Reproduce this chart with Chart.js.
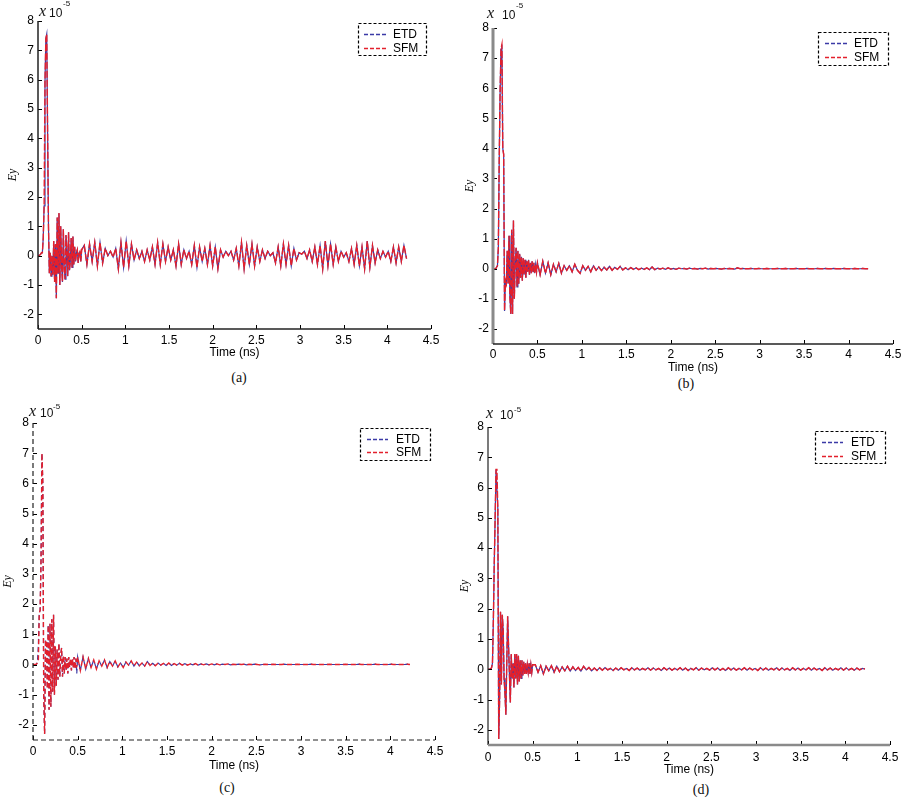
<!DOCTYPE html>
<html><head><meta charset="utf-8">
<script src="https://cdn.jsdelivr.net/npm/chart.js@4.4.1/dist/chart.umd.min.js"></script>
<style>
html,body{margin:0;padding:0;background:#fff}
body{width:907px;height:801px;position:relative;overflow:hidden}
canvas{position:absolute}
.t{position:absolute;white-space:nowrap;line-height:1;color:#111}
.cap{font-family:"Liberation Serif","Times New Roman",serif;font-size:14px;transform:translate(-50%,-50%)}
.xi{font-family:"Liberation Serif","Times New Roman",serif;font-style:italic;font-size:16px}
.ten{font-family:"Liberation Sans",Arial,sans-serif;font-size:12px}
.ex{font-family:"Liberation Sans",Arial,sans-serif;font-size:8px}
</style></head><body>
<script>
// ---------- DATA ----------
const seriesNames = ['ETD', 'SFM'];
const panelLabels = ['(a)', '(b)', '(c)', '(d)'];
const xTickValues = [0, 0.5, 1, 1.5, 2, 2.5, 3, 3.5, 4, 4.5];
const yTickValues = [-2, -1, 0, 1, 2, 3, 4, 5, 6, 7, 8];
const xAxisTitle = 'Time (ns)';
const yAxisTitle = 'Ey';

const timeEarly = [0.00,0.01,0.02,0.03,0.04,0.05,0.06,0.07,0.08,0.09,0.10,0.11,0.12,0.13,0.14,0.15,0.16,0.17,0.18,0.19,0.20,0.21,0.22,0.23,0.24,0.25,0.26,0.27,0.28,0.29,0.30,0.31,0.32,0.33,0.34,0.35,0.36,0.37,0.38,0.39,0.40,0.41,0.42,0.43,0.44,0.45,0.46,0.47,0.48,0.49,0.50];
const timeLate = [0.53,0.56,0.59,0.62,0.65,0.68,0.71,0.74,0.77,0.80,0.83,0.86,0.89,0.92,0.95,0.98,1.01,1.04,1.07,1.10,1.13,1.16,1.19,1.22,1.25,1.28,1.31,1.34,1.37,1.40,1.43,1.46,1.49,1.52,1.55,1.58,1.61,1.64,1.67,1.70,1.73,1.76,1.79,1.82,1.85,1.88,1.91,1.94,1.97,2.00,2.03,2.06,2.09,2.12,2.15,2.18,2.21,2.24,2.27,2.30,2.33,2.36,2.39,2.42,2.45,2.48,2.51,2.54,2.57,2.60,2.63,2.66,2.69,2.72,2.75,2.78,2.81,2.84,2.87,2.90,2.93,2.96,2.99,3.02,3.05,3.08,3.11,3.14,3.17,3.20,3.23,3.26,3.29,3.32,3.35,3.38,3.41,3.44,3.47,3.50,3.53,3.56,3.59,3.62,3.65,3.68,3.71,3.74,3.77,3.80,3.83,3.86,3.89,3.92,3.95,3.98,4.01,4.04,4.07,4.10,4.13,4.16,4.19,4.22];

// Panel (a)
const sfmEarlyA = [0,0,0.02,0.05,0.1,0.1,0.6,1.7,5.9,7.4,7.55,4.2,1.0,-0.6,0.1,-0.7,0,-0.65,0.5,-0.9,0.4,-1.45,1.3,-0.6,1.45,-1.0,1.0,-0.3,-0.9,0.9,-0.4,-0.8,0.7,0.2,-0.7,0.8,-0.5,-0.2,0.6,-0.4,0.65,-0.3,0.3,-0.2,0.1,0.2,-0.25,0.1,0.15,-0.2,0.2];
const sfmLateA = [0.35,-0.3,0.4,-0.2,0.45,-0.35,0.45,-0.25,0.25,0.0,
0.15,-0.05,0.25,-0.45,0.45,-0.4,0.5,-0.35,0.4,-0.15,
0.2,-0.1,0.15,-0.2,0.2,-0.15,0.3,-0.3,0.45,-0.3,
0.4,-0.2,0.3,-0.15,0.2,-0.35,0.4,-0.3,0.2,-0.1,
0.15,-0.3,0.35,-0.4,0.3,-0.2,0.25,-0.3,0.35,-0.35,
0.3,-0.45,0.2,-0.05,0.15,0.0,0.15,-0.15,0.25,-0.35,
0.45,-0.45,0.35,-0.3,0.4,-0.35,0.3,-0.2,0.2,-0.1,
0.15,0.0,0.1,-0.25,0.3,-0.35,0.4,-0.3,0.35,-0.35,
0.25,-0.15,0.1,0.05,0.15,-0.1,0.2,-0.2,0.3,-0.3,
0.35,-0.45,0.5,-0.35,0.4,-0.3,0.3,-0.2,0.15,-0.05,
0.1,-0.2,0.25,-0.3,0.35,-0.35,0.3,-0.45,0.5,-0.4,
0.35,-0.25,0.2,-0.1,0.15,-0.05,0.15,-0.2,0.3,-0.25,
0.3,-0.2,0.35,-0.1];
const etdEarlyA = sfmEarlyA;
const etdLateA = sfmLateA;

// Panel (b)
const sfmEarlyB = [0,0,0,0,0.05,0.1,0.7,3.6,5.9,7.3,7.45,4.0,3.8,-1.4,-0.4,-0.5,0.6,-0.5,1.1,-0.9,-1.5,1.3,-1.5,1.6,-1.0,0.2,0.7,-0.6,0.6,-0.5,0.5,-0.3,0.4,-0.4,0.35,-0.2,0.3,-0.3,0.25,-0.1,0.3,-0.2,0.2,-0.15,0.25,-0.1,0.2,-0.15,0.15,-0.1,0.2];
const sfmLateB = [-0.2,0.25,-0.15,0.2,-0.2,0.15,-0.1,0.18,-0.15,0.1,
-0.05,0.1,-0.1,0.15,-0.05,-0.15,0.1,-0.05,0.08,-0.1,
0.1,-0.05,0.06,-0.06,0.05,-0.04,0.08,-0.05,0.05,-0.02,
0.08,-0.04,0.03,-0.03,0.04,-0.02,0.03,-0.03,0.02,-0.02,
0.03,-0.03,0.06,-0.03,0.02,-0.01,0.02,-0.02,0.03,-0.01,
0.01,-0.02,0.02,0,0.01,-0.01,0.02,0,0.01,-0.01,
0.01,0,0.02,-0.01,0.01,0,0.01,0,-0.01,0.01,
0,0.01,0,-0.01,0.03,0,0.01,0,0,0.01,
0,0,0.01,0,0,0.01,0,0,0,0.01,
0,0,0.01,0,0,0,0.01,0,0,0,
0.01,0,0,0,0.01,0,0,0.01,0,0,
0.01,0,0,0,0.01,0,0,0,0.01,0,
0,0.01,0,0];
const etdEarlyB = sfmEarlyB;
const etdLateB = sfmLateB;

// Panel (c)
const sfmEarlyC = [0,0,0,0,0.02,0.05,0.1,1.7,1.8,3.5,7.0,6.0,-1.0,-2.3,0.8,0.8,-0.8,1.3,-1.5,1.35,-1.4,1.5,-0.9,1.65,-1.0,0.6,-0.7,0.5,-0.5,0.7,-0.4,0.3,0.55,-0.4,0.3,-0.3,0.25,-0.2,0.2,-0.3,0.25,-0.1,0.2,-0.2,0.2,-0.1,0.25,-0.15,0.2,-0.1,0.25];
const etdEarlyC = [0,0,0,0,0.02,0.1,0.65,1.7,1.8,3.5,7.0,6.0,-1.0,-2.3,0.8,0.8,-0.8,1.3,-1.5,1.35,-1.4,1.5,-0.9,1.65,-1.0,0.6,-0.7,0.5,-0.5,0.7,-0.4,0.3,0.55,-0.4,0.3,-0.3,0.25,-0.2,0.2,-0.3,0.25,-0.1,0.2,-0.2,0.2,-0.1,0.25,-0.15,0.2,-0.3,0.25];
const sfmLateC = [-0.2,0.25,-0.15,0.2,-0.1,0.15,-0.15,0.12,-0.05,0.15,
-0.1,0.1,-0.05,0.12,-0.08,0.05,-0.1,0.08,-0.02,0.12,
-0.05,0.08,-0.04,0.05,-0.05,0.1,-0.03,0.04,-0.04,0.05,
-0.02,0.04,-0.03,0.05,-0.03,0.03,-0.02,0.04,-0.02,0.03,
-0.02,0.02,-0.01,0.03,-0.02,0.02,-0.01,0.02,-0.01,0.02,
-0.01,0.02,-0.01,0.01,0,0.02,-0.01,0.01,0,0.01,
0,0.01,-0.01,0.01,0,0.01,0,-0.01,0,0.01,
0,0,0.01,0,0,0,0.01,0,0,0,
0,0.01,0,0,0,0,0.01,0,0,0,
0,0,0,0.01,0,0,0,0,0,0.01,
0,0,0,0,0.01,0,0,0,0,0,
0.01,0,0,0,0,0,0.01,0,0,0,
0,0,0.01,0];
const etdLateC = sfmLateC;

// Panel (d)
const sfmEarlyD = [0,0,0,0.02,0.05,0.2,1.6,3.5,5.0,6.6,6.6,5.3,-2.3,-1.0,1.9,-0.5,1.8,1.3,-0.3,-0.8,-1.5,0.2,1.75,0.8,-0.2,-1.1,0.5,-0.3,0.2,-0.6,0.5,-0.3,0.5,-0.5,0.45,-0.4,0.3,-0.3,0.3,-0.2,0.25,-0.15,0.2,-0.15,0.15,-0.1,0.2,-0.15,0.15,-0.1,0.15];
const sfmLateD = [0.15,-0.1,0.12,-0.15,0.1,-0.05,0.12,-0.1,0.1,-0.08,
0.08,-0.05,0.1,-0.06,0.08,-0.04,0.06,-0.06,0.1,-0.02,
0.06,-0.05,0.04,-0.04,0.05,-0.03,0.06,-0.02,0.03,-0.04,
0.04,-0.03,0.05,-0.02,0.03,-0.04,0.05,-0.02,0.04,-0.03,
0.03,-0.02,0.05,-0.03,0.04,-0.02,0.03,-0.04,0.05,-0.02,
0.04,-0.03,0.03,-0.02,0.05,-0.03,0.04,-0.04,0.03,-0.02,
0.05,-0.03,0.04,-0.02,0.03,-0.03,0.05,-0.02,0.04,-0.03,
0.03,-0.04,0.05,-0.02,0.04,-0.03,0.03,-0.02,0.05,-0.03,
0.04,-0.02,0.03,-0.04,0.05,-0.02,0.04,-0.03,0.03,-0.02,
0.05,-0.03,0.04,-0.02,0.03,-0.04,0.05,-0.02,0.04,-0.03,
0.03,-0.02,0.05,-0.03,0.04,-0.02,0.03,-0.04,0.05,-0.02,
0.04,-0.03,0.03,-0.02,0.05,-0.03,0.04,-0.02,0.03,-0.03,
0.04,-0.02,0.03,0.01];
const etdEarlyD = sfmEarlyD;
const etdLateD = sfmLateD;

const sfmSeries = [[sfmEarlyA, sfmLateA], [sfmEarlyB, sfmLateB], [sfmEarlyC, sfmLateC], [sfmEarlyD, sfmLateD]];
const etdSeries = [[etdEarlyA, etdLateA], [etdEarlyB, etdLateB], [etdEarlyC, etdLateC], [etdEarlyD, etdLateD]];

// ---------- LAYOUT / STYLE ----------
const SFM_COLOR = '#e3202c';
const ETD_COLOR = '#3b3aa6';
const layouts = [
  {cx:0, cy:0, cw:450, L:38, T:21, R:431, B:329, tickPad:4, titleY:353, eyX:13, cap:[239,377.5],
   mul:{x:[39,2.6], ten:[49,6.8], ex:[63,0.2]},
   leg:[358,23,68,32], rows:[34,48], line:[364,386], text:393,
   left:{c:'#222',w:1.5,d:[]}, bottom:{c:'#222',w:1.3,d:[]}, sfmDash:[7,2], etdDash:[]},
  {cx:450, cy:0, cw:457, L:493, T:28, R:893, B:344, tickPad:3, titleY:368, eyX:470, cap:[686,384],
   mul:{x:[487,4.9], ten:[502,9.1], ex:[516,2.2]},
   leg:[818,32,70,33], rows:[43,57], line:[825,847], text:854,
   left:{c:'#8a8a8a',w:3,d:[]}, bottom:{c:'#222',w:1.3,d:[]}, sfmDash:[7,2], etdDash:[]},
  {cx:0, cy:395, cw:450, L:33, T:423, R:435, B:740, tickPad:4, titleY:766, eyX:8, cap:[227,788],
   mul:{x:[29,403.3], ten:[40,406.5], ex:[53,403.2]},
   leg:[360,428,70,32], rows:[439,452], line:[367,388], text:396,
   left:{c:'#222',w:1.2,d:[5,3]}, bottom:{c:'#222',w:1.2,d:[5,3]}, sfmDash:[5,3], etdDash:[5,3]},
  {cx:450, cy:395, cw:457, L:488, T:427, R:890, B:745, tickPad:5, titleY:770, eyX:465, cap:[701,789.5],
   mul:{x:[486,404.9], ten:[500,409.1], ex:[514,406.2]},
   leg:[815,431,70,32], rows:[442,456], line:[822,843], text:851,
   left:{c:'#222',w:1.2,d:[]}, bottom:{c:'#8a8a8a',w:2.5,d:[]}, sfmDash:[7,2], etdDash:[]}
];

const SANS = '"Liberation Sans", Arial, Helvetica, sans-serif';
Chart.defaults.font.family = SANS;
Chart.defaults.font.size = 12;
Chart.defaults.color = '#000';

const matlabAxes = {
  id: 'matlabAxes',
  afterDraw(chart, args, P) {
    const {ctx, chartArea: {left, right, top, bottom}, scales: {x, y}} = chart;
    ctx.save();
    // inward tick marks
    ctx.strokeStyle = '#000'; ctx.lineWidth = 1; ctx.setLineDash([]);
    ctx.beginPath();
    xTickValues.forEach(v => {
      const px = Math.round(x.getPixelForValue(v)) + 0.5;
      ctx.moveTo(px, bottom); ctx.lineTo(px, bottom - 4);
    });
    yTickValues.forEach(v => {
      const py = Math.round(y.getPixelForValue(v)) + 0.5;
      ctx.moveTo(left, py); ctx.lineTo(left + 4, py);
    });
    ctx.stroke();
    // axis lines
    const yTop = y.getPixelForValue(8), yBot = y.getPixelForValue(-2.5);
    const xL = x.getPixelForValue(0), xR = x.getPixelForValue(4.5);
    ctx.strokeStyle = P.left.c; ctx.lineWidth = P.left.w; ctx.setLineDash(P.left.d);
    ctx.beginPath(); ctx.moveTo(xL, yTop); ctx.lineTo(xL, yBot); ctx.stroke();
    ctx.strokeStyle = P.bottom.c; ctx.lineWidth = P.bottom.w; ctx.setLineDash(P.bottom.d);
    ctx.beginPath(); ctx.moveTo(xL, yBot); ctx.lineTo(xR, yBot); ctx.stroke();
    // legend box
    const ox = P.cx, oy = P.cy;
    const [lx, ly, lw, lh] = P.leg;
    ctx.fillStyle = '#fff';
    ctx.fillRect(lx - ox, ly - oy, lw, lh);
    ctx.strokeStyle = '#000'; ctx.lineWidth = 1.2; ctx.setLineDash([3, 2]);
    ctx.strokeRect(lx - ox + 0.5, ly - oy + 0.5, lw, lh);
    const ds = chart.data.datasets;
    seriesNames.forEach((name, i) => {
      const d = ds.find(s => s.label === name);
      const ry = P.rows[i] - oy + 0.5;
      ctx.strokeStyle = d.borderColor; ctx.lineWidth = 1.5; ctx.setLineDash([4, 2]);
      ctx.beginPath(); ctx.moveTo(P.line[0] - ox, ry); ctx.lineTo(P.line[1] - ox, ry); ctx.stroke();
      ctx.setLineDash([]);
      ctx.fillStyle = '#000'; ctx.font = '12px ' + SANS; ctx.textBaseline = 'middle'; ctx.textAlign = 'left';
      ctx.fillText(name, P.text - ox, ry);
    });
    ctx.restore();
  }
};

function points(early, late) {
  return timeEarly.map((t, i) => ({x: t, y: early[i]}))
    .concat(timeLate.map((t, i) => ({x: t, y: late[i]})));
}

layouts.forEach((P, i) => {
  const ch = P.titleY + 8 - P.cy;
  const canvas = document.createElement('canvas');
  canvas.width = P.cw; canvas.height = ch;
  canvas.style.left = P.cx + 'px'; canvas.style.top = P.cy + 'px';
  canvas.style.width = P.cw + 'px'; canvas.style.height = ch + 'px';
  document.body.appendChild(canvas);

  new Chart(canvas, {
    type: 'line',
    data: {
      datasets: [
        {label: seriesNames[1], data: points(sfmSeries[i][0], sfmSeries[i][1]), borderColor: SFM_COLOR,
         borderWidth: 1.4, borderDash: P.sfmDash, pointRadius: 0, tension: 0, order: 0, fill: false},
        {label: seriesNames[0], data: points(etdSeries[i][0], etdSeries[i][1]), borderColor: ETD_COLOR,
         borderWidth: 1.2, borderDash: P.etdDash, pointRadius: 0, tension: 0, order: 1, fill: false}
      ]
    },
    options: {
      responsive: false, animation: false, devicePixelRatio: 1,
      layout: {padding: {top: P.T - P.cy, right: P.cx + P.cw - P.R, left: 0, bottom: 0}},
      plugins: {legend: {display: false}, tooltip: {enabled: false}, matlabAxes: P},
      scales: {
        x: {
          type: 'linear', min: 0, max: 4.5,
          afterBuildTicks: s => { s.ticks = xTickValues.map(v => ({value: v})); },
          afterFit: s => { s.height = P.titleY + 8 - P.B; },
          grid: {display: false, drawTicks: false, tickLength: 0},
          border: {display: false},
          ticks: {padding: P.tickPad, color: '#000', font: {size: 12}, maxRotation: 0, autoSkip: false,
                  callback: v => String(v)},
          title: {display: true, text: xAxisTitle, color: '#000', font: {size: 12}, padding: {top: 0, bottom: 0.8}}
        },
        y: {
          type: 'linear', min: -2.5, max: 8,
          afterBuildTicks: s => { s.ticks = yTickValues.map(v => ({value: v})); },
          afterFit: s => { s.width = P.L - P.cx; },
          grid: {display: false, drawTicks: false, tickLength: 0},
          border: {display: false},
          ticks: {padding: 4, color: '#000', font: {size: 12}, autoSkip: false, callback: v => String(v)},
          title: {display: true, text: yAxisTitle, color: '#000',
                  font: {family: '"Liberation Serif", "Times New Roman", serif', style: 'italic', size: 12},
                  padding: {top: P.eyX - P.cx - 7.2, bottom: 0}}
        }
      }
    },
    plugins: [matlabAxes]
  });

  // caption
  const cap = document.createElement('div');
  cap.className = 't cap';
  cap.style.left = P.cap[0] + 'px'; cap.style.top = P.cap[1] + 'px';
  cap.textContent = panelLabels[i];
  document.body.appendChild(cap);

  // multiplier label  x 10^-5
  const mk = (cls, txt, pos) => {
    const e = document.createElement('div');
    e.className = 't ' + cls; e.textContent = txt;
    e.style.left = pos[0] + 'px'; e.style.top = pos[1] + 'px';
    document.body.appendChild(e);
  };
  mk('xi', 'x', P.mul.x);
  mk('ten', '10', P.mul.ten);
  mk('ex', '-5', P.mul.ex);
});
</script>
</body></html>
